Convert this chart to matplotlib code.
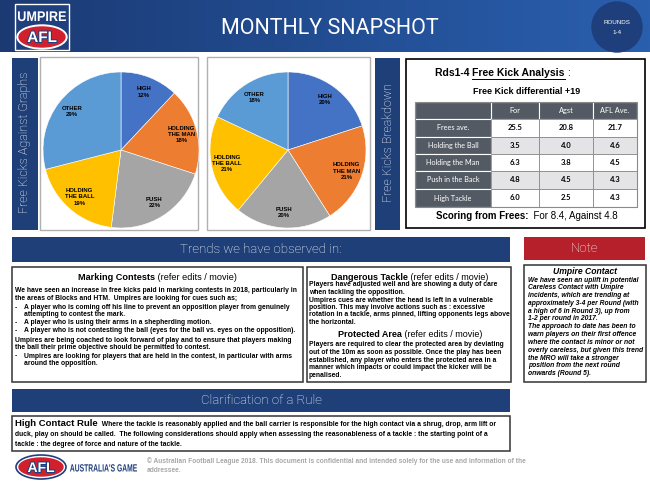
import numpy as np
import matplotlib.pyplot as plt
from matplotlib.patches import Rectangle, Ellipse, Circle, PathPatch
from matplotlib.colors import LinearSegmentedColormap
from matplotlib.textpath import TextPath
from matplotlib.font_manager import FontProperties
from matplotlib.transforms import Affine2D
import matplotlib.patheffects as pe

# pie data
pie_labels = ["HIGH", "HOLDING\nTHE MAN", "PUSH", "HOLDING\nTHE BALL", "OTHER"]
against_pct = [12, 18, 22, 19, 29]
breakdown_pct = [20, 21, 20, 21, 18]
pie_colors = ["#4472c4", "#ed7d31", "#a5a5a5", "#ffc000", "#5b9bd5"]

# free kick table
table_cols = ["For", "Agst", "AFL Ave."]
table_rows = ["Frees ave.", "Holding the Ball", "Holding the Man", "Push in the Back", "High Tackle"]
fk_for = [25.5, 3.5, 6.3, 4.8, 6.0]
fk_agst = [20.8, 4.0, 3.8, 4.5, 2.5]
fk_afl = [21.7, 4.6, 4.5, 4.3, 4.3]

BLUE = "#1f3f78"
RED = "#b5202a"
BODY = ["Liberation Sans", "DejaVu Sans"]
LIGHT = ["Roboto", "DejaVu Sans"]
FS = 4.85

fig = plt.figure(figsize=(6.5, 4.88), dpi=100)
ax = fig.add_axes([0, 0, 1, 1])
ax.set_xlim(0, 650)
ax.set_ylim(488, 0)
ax.axis("off")
R = fig.canvas.get_renderer()


def box(x0, y0, x1, y1, fc="none", ec="none", lw=1, z=1):
    ax.add_patch(Rectangle((x0, y0), x1 - x0, y1 - y0, facecolor=fc, edgecolor=ec, lw=lw, zorder=z))


def runs(x, y, parts, size, ha="left", color="black", family=BODY, style="normal"):
    # draw text pieces one after another on one line
    ts = []
    cur = x
    for s, w, fs in [(p[0], p[1], p[2] if len(p) > 2 else size) for p in parts]:
        t = ax.text(cur, y, s, fontsize=fs, fontweight=w, va="center", ha="left",
                    color=color, family=family, style=style, zorder=5)
        cur += t.get_window_extent(R).width
        ts.append(t)
    if ha == "center":
        shift = (cur - x) / 2
        for t in ts:
            t.set_x(t.get_position()[0] - shift)
    return ts


def squeezed(s, x0, x1, ybase, size, color):
    # condensed bold lettering: text path scaled to fit between x0 and x1
    tp = TextPath((0, 0), s, size=size, prop=FontProperties(family="Liberation Sans", weight="bold"))
    ext = tp.get_extents()
    sx = (x1 - x0) / ext.width
    tr = Affine2D().translate(-ext.x0, 0).scale(sx, -1).translate(x0, ybase)
    ax.add_patch(PathPatch(tr.transform_path(tp), color=color, lw=0, zorder=4))


# header band
cmap = LinearSegmentedColormap.from_list("hdr", ["#1b3a73", "#224d92", "#2a5fae"])
ax.imshow(np.linspace(0, 1, 256)[None, :], extent=(0, 650, 52, 0), cmap=cmap, aspect="auto", zorder=0)
ax.set_xlim(0, 650)
ax.set_ylim(488, 0)
ax.text(330, 28, "MONTHLY SNAPSHOT", color="white", fontsize=15.5, fontweight="normal",
        family=LIGHT, ha="center", va="center")
ax.add_patch(Circle((617, 27), 25, color="#1e3f7c", zorder=2))
ax.text(617, 22, "ROUNDS", color="white", fontsize=4.5, ha="center", va="center", family=BODY, zorder=3)
ax.text(617, 32, "1-4", color="white", fontsize=4.5, ha="center", va="center", family=BODY, zorder=3)

# umpire logo
box(15, 4, 69, 50, fc="#1f3f7d", ec="white", lw=1, z=2)
squeezed("UMPIRE", 18, 66, 21, 14, "white")
ax.add_patch(Ellipse((42, 37), 50, 24, color="white", zorder=3))
ax.add_patch(Ellipse((42, 37), 46, 20, color="#d0202e", zorder=3))
ax.text(42, 38, "AFL", color="white", fontsize=11, fontweight="bold", ha="center", va="center",
        family=BODY, zorder=4, path_effects=[pe.withStroke(linewidth=1.5, foreground="#1f3f7d")])

# side labels
box(12, 58, 38, 230, fc=BLUE)
ax.text(25, 142, "Free Kicks Against Graphs", color="white", rotation=90, fontsize=9,
        fontweight="light", family=LIGHT, ha="center", va="center")
box(375, 58, 400, 230, fc=BLUE)
ax.text(388, 143, "Free Kicks Breakdown", color="white", rotation=90, fontsize=9,
        fontweight="light", family=LIGHT, ha="center", va="center")

# pie panels
box(40, 57, 198, 230, ec="#b0b0b0", lw=1)
box(207, 57, 370, 230, ec="#b0b0b0", lw=1)


def pie_at(cx, cy, r, vals):
    pax = fig.add_axes([(cx - r) / 650, 1 - (cy + r) / 488, 2 * r / 650, 2 * r / 488])
    labs = [f"{c}\n{v}%" for c, v in zip(pie_labels, vals)]
    pax.pie(vals, labels=labs, colors=pie_colors, startangle=90, counterclock=False,
            labeldistance=0.8, wedgeprops=dict(edgecolor="white", linewidth=0.4),
            textprops=dict(fontsize=4.3, fontweight="bold", ha="center", va="center",
                           multialignment="center", family=BODY, linespacing=1.3))
    pax.set_xlim(-1, 1)
    pax.set_ylim(-1, 1)
    pax.set_aspect("equal")


pie_at(121, 150, 78, against_pct)
pie_at(288, 150, 78, breakdown_pct)

# free kick analysis panel
box(406, 59, 645, 228, ec="black", lw=1.2)
ts = runs(435, 73, [("Rds1-4 ", "bold"), ("Free Kick Analysis", "bold"), (" :", "normal")], 7.5)
bb = ts[1].get_window_extent(R)
ax.plot([ts[1].get_position()[0], ts[1].get_position()[0] + bb.width], [78.5, 78.5], color="black", lw=0.7)
ax.text(527, 91, "Free Kick differential +19", fontsize=6.5, fontweight="bold", ha="center",
        va="center", family=BODY)

xe = [415, 491, 539, 593, 637]
ye = [102, 119, 137, 154, 171, 189, 207]
DARK = "#545a63"
TF = ["Lato", "DejaVu Sans"]
for j, c in enumerate(table_cols):
    box(xe[j + 1], ye[0], xe[j + 2], ye[1], fc=DARK, ec="white", lw=0.8)
    ax.text((xe[j + 1] + xe[j + 2]) / 2, (ye[0] + ye[1]) / 2, c, color="white", fontsize=5.3,
            ha="center", va="center", family=TF)
box(xe[0], ye[0], xe[1], ye[1], fc=DARK, ec="white", lw=0.8)
for i, name in enumerate(table_rows):
    y0, y1 = ye[i + 1], ye[i + 2]
    box(xe[0], y0, xe[1], y1, fc=DARK, ec="white", lw=0.8)
    ax.text((xe[0] + xe[1]) / 2, (y0 + y1) / 2, name, color="white", fontsize=5.2,
            ha="center", va="center", family=TF)
    fc = "#e4e4e6" if i in (1, 3) else "white"
    for j, v in enumerate([fk_for[i], fk_agst[i], fk_afl[i]]):
        box(xe[j + 1], y0, xe[j + 2], y1, fc=fc, ec="#8a8a8a", lw=0.6)
        ax.text((xe[j + 1] + xe[j + 2]) / 2, (y0 + y1) / 2, f"{v:.1f}", fontsize=5.5,
                fontweight="bold", ha="center", va="center", family=TF)
box(xe[0], ye[0], xe[-1], ye[-1], ec="#8a8a8a", lw=0.8, z=3)
runs(527, 216, [("Scoring from Frees:", "bold"), ("  For 8.4, Against 4.8", "normal")], 7, ha="center")

# banners
box(12, 237, 510, 262, fc=BLUE)
ax.text(261, 249.5, "Trends we have observed in:", color="white", fontsize=9.5, fontweight="light",
        family=LIGHT, ha="center", va="center")
box(524, 237, 645, 260, fc=RED)
ax.text(584, 248.5, "Note", color="white", fontsize=9.5, fontweight="light",
        family=LIGHT, ha="center", va="center")
box(12, 389, 510, 412, fc=BLUE)
ax.text(261, 400.5, "Clarification of a Rule", color="white", fontsize=9.5, fontweight="light",
        family=LIGHT, ha="center", va="center")

# text boxes
box(12, 267, 303, 382, ec="#333333", lw=1.1)
box(307, 267, 511, 382, ec="#333333", lw=1.1)
box(524, 265, 646, 382, ec="#333333", lw=1.1)
box(12, 416, 510, 451, ec="#333333", lw=1.1)

runs(157, 278, [("Marking Contests", "bold"), (" (refer edits / movie)", "normal")], 6.6, ha="center")
marking = [
    (15, 290, "We have seen an increase in free kicks paid in marking contests in 2018, particularly in"),
    (15, 299, "the areas of Blocks and HTM.  Umpires are looking for cues such as;"),
    (15, 307.5, "-"), (24, 307.5, "A player who is coming off his line to prevent an opposition player from genuinely"),
    (24, 314.5, "attempting to contest the mark."),
    (15, 322.5, "-"), (24, 322.5, "A player who is using their arms in a shepherding motion."),
    (15, 330.5, "-"), (24, 330.5, "A player who is not contesting the ball (eyes for the ball vs. eyes on the opposition)."),
    (15, 340, "Umpires are being coached to look forward of play and to ensure that players making"),
    (15, 347.5, "the ball their prime objective should be permitted to contest."),
    (15, 356, "-"), (24, 356, "Umpires are looking for players that are held in the contest, in particular with arms"),
    (24, 363.5, "around the opposition."),
]
for x, y, s in marking:
    ax.text(x, y, s, fontsize=FS, fontweight="bold", va="center", family=BODY)

runs(410, 277, [("Dangerous Tackle", "bold"), (" (refer edits / movie)", "normal")], 6.5, ha="center")
runs(410, 334.5, [("Protected Area", "bold"), (" (refer edits / movie)", "normal")], 6.5, ha="center")
tackle = [
    (284, "Players have adjusted well and are showing a duty of care"),
    (292, "when tackling the opposition."),
    (300, "Umpires cues are whether the head is left in a vulnerable"),
    (307.5, "position. This may involve actions such as : excessive"),
    (315, "rotation in a tackle, arms pinned, lifting opponents legs above"),
    (323, "the horizontal."),
    (345, "Players are required to clear the protected area by deviating"),
    (352.5, "out of the 10m as soon as possible. Once the play has been"),
    (360, "established, any player who enters the protected area in a"),
    (367.5, "manner which impacts or could impact the kicker will be"),
    (375.5, "penalised."),
]
for y, s in tackle:
    ax.text(309, y, s, fontsize=FS, fontweight="bold", va="center", family=BODY)

ax.text(585, 272, "Umpire Contact", fontsize=6.2, fontweight="bold", style="italic", ha="center",
        va="center", family=BODY)
umpire = [
    "We have seen an uplift in potential",
    "Careless Contact with Umpire",
    "incidents, which are trending at",
    "approximately 3-4 per Round (with",
    "a high of 6 in Round 3), up from",
    "1-2 per round in 2017.",
    "The approach to date has been to",
    "warn players on their first offence",
    "where the contact is minor or not",
    "overly careless, but given this trend",
    "the MRO will take a stronger",
    "position from the next round",
    "onwards (Round 5).",
]
for i, s in enumerate(umpire):
    ax.text(528, 280 + i * 7.8, s, fontsize=FS, fontweight="bold", style="italic", va="center", family=BODY)

runs(15, 424, [("High Contact Rule", "bold", 6.8), ("  Where the tackle is reasonably applied and the ball carrier is "
     "responsible for the high contact via a shrug, drop, arm lift or", "bold", FS)], 6.8)
ax.text(15, 434, "duck, play on should be called.  The following considerations should apply when assessing the "
        "reasonableness of a tackle : the starting point of a", fontsize=FS, fontweight="bold", va="center", family=BODY)
ax.text(15, 444, "tackle : the degree of force and nature of the tackle.", fontsize=FS, fontweight="bold",
        va="center", family=BODY)

# footer
ax.add_patch(Ellipse((41, 467), 50, 24, facecolor="white", edgecolor="#1f3f7d", lw=1.2, zorder=3))
ax.add_patch(Ellipse((41, 467), 44, 18, color="#d0202e", zorder=3))
ax.text(41, 468, "AFL", color="white", fontsize=10, fontweight="bold", ha="center", va="center",
        family=BODY, zorder=4, path_effects=[pe.withStroke(linewidth=1.5, foreground="#1f3f7d")])
squeezed("AUSTRALIA'S GAME", 70, 137, 471.5, 10.5, "#1f3f7d")
ax.text(147, 461, "\u00a9 Australian Football League 2018. This document is confidential and intended solely "
        "for the use and information of the", color="#a8a8a8", fontsize=4.8, fontweight="bold",
        va="center", family=BODY)
ax.text(147, 470, "addressee.", color="#a8a8a8", fontsize=4.8, fontweight="bold", va="center", family=BODY)

fig.savefig("out.png", dpi=100)
